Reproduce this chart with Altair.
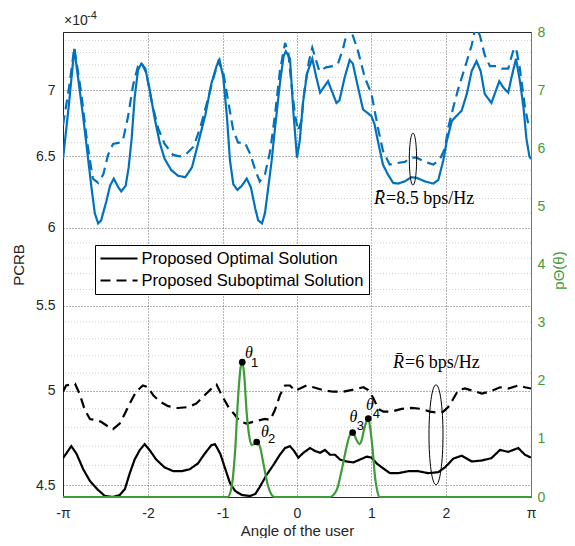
import altair as alt
import pandas as pd

PI = 3.141592653589793

# ---------------- data (PCRB in units of 1e-4) ----------------
opt85_x = [-PI, -3.06, -2.99, -2.94, -2.87, -2.76, -2.715, -2.67, -2.63, -2.56, -2.51, -2.46, -2.40, -2.36,
           -2.30, -2.26, -2.22, -2.18, -2.134, -2.09, -2.036, -1.977, -1.91, -1.843, -1.776, -1.687, -1.597,
           -1.50, -1.41, -1.33, -1.23, -1.15, -1.08, -1.04, -0.99, -0.94, -0.90, -0.855, -0.80, -0.74, -0.675,
           -0.62, -0.56, -0.52, -0.47, -0.43, -0.385, -0.34, -0.295, -0.23, -0.18, -0.15, -0.094, -0.05, 0.0,
           0.036, 0.08, 0.134, 0.205, 0.26, 0.31, 0.416, 0.483, 0.53, 0.57, 0.64, 0.707, 0.75, 0.82, 0.886,
           0.998, 1.04, 1.087, 1.154, 1.22, 1.29, 1.356, 1.446, 1.534, 1.607, 1.718, 1.83, 1.897, 1.964, 2.01,
           2.077, 2.14, 2.21, 2.28, 2.345, 2.41, 2.466, 2.52, 2.61, 2.716, 2.77, 2.836, 2.88, 2.94, 2.993,
           3.04, 3.08, 3.12, PI]
opt85_y = [6.48, 6.9, 7.33, 7.1, 6.79, 6.28, 6.1, 6.03, 6.05, 6.18, 6.29, 6.34, 6.28, 6.25,
           6.29, 6.42, 6.63, 6.94, 7.16, 7.21, 7.17, 7.0, 6.78, 6.6, 6.48, 6.4, 6.36,
           6.35, 6.42, 6.59, 6.81, 7.05, 7.19, 7.24, 7.1, 6.79, 6.47, 6.3, 6.26, 6.29, 6.34,
           6.28, 6.13, 6.05, 6.03, 6.1, 6.28, 6.47, 6.71, 7.05, 7.27, 7.31, 7.25, 6.84, 6.49,
           6.61, 6.9, 7.13, 7.25, 7.1, 6.98, 7.07, 6.97, 6.9, 6.92, 7.1, 7.24, 7.21, 7.02, 6.85,
           6.8, 6.74, 6.61, 6.44, 6.37, 6.31, 6.305, 6.32, 6.35, 6.345, 6.32, 6.305, 6.33, 6.47, 6.61,
           6.76, 6.8, 6.84, 6.97, 7.15, 7.23, 7.15, 6.97, 6.9, 7.07, 7.02, 6.98, 7.1, 7.25, 7.07,
           6.87, 6.63, 6.5, 6.48]

sub85_x = [-PI, -3.06, -2.99, -2.895, -2.83, -2.78, -2.74, -2.67, -2.60, -2.537, -2.47, -2.38, -2.336,
           -2.27, -2.20, -2.134, -2.09, -2.02, -1.955, -1.866, -1.776, -1.664, -1.575, -1.50, -1.39, -1.30,
           -1.21, -1.12, -1.056, -0.99, -0.92, -0.855, -0.79, -0.70, -0.63, -0.56, -0.50, -0.43, -0.36,
           -0.295, -0.23, -0.16, -0.117, -0.07, -0.027, 0.013, 0.058, 0.10, 0.16, 0.205, 0.26, 0.30, 0.39,
           0.48, 0.55, 0.617, 0.66, 0.707, 0.75, 0.82, 0.91, 1.0, 1.087, 1.154, 1.244, 1.333, 1.446, 1.534,
           1.607, 1.718, 1.83, 1.92, 1.987, 2.03, 2.1, 2.165, 2.255, 2.345, 2.40, 2.456, 2.52, 2.59, 2.68,
           2.75, 2.836, 2.9, 2.94, 2.99, 3.06, 3.105, PI]
sub85_y = [6.73, 7.02, 7.34, 6.97, 6.66, 6.47, 6.34, 6.31, 6.37, 6.51, 6.59, 6.6, 6.62,
           6.79, 7.04, 7.19, 7.22, 7.13, 6.92, 6.71, 6.59, 6.51, 6.5, 6.51, 6.57, 6.71,
           6.9, 7.1, 7.23, 7.14, 6.9, 6.69, 6.6, 6.6, 6.52, 6.4, 6.32, 6.37, 6.54,
           6.81, 7.15, 7.38, 7.3, 7.02, 6.81, 6.69, 6.76, 7.0, 7.23, 7.34, 7.23, 7.15, 7.18,
           7.19, 7.21, 7.33, 7.44, 7.52, 7.44, 7.31, 7.1, 6.97, 6.71, 6.54, 6.44, 6.45, 6.46, 6.49,
           6.49, 6.46, 6.44, 6.48, 6.56, 6.71, 6.87, 7.01, 7.18, 7.36, 7.52, 7.44, 7.28, 7.19, 7.19,
           7.17, 7.17, 7.31, 7.34, 7.18, 6.87, 6.74, 6.71]

opt6_x = [-PI, -3.03, -2.96, -2.87, -2.78, -2.67, -2.58, -2.47, -2.38, -2.31, -2.245, -2.18, -2.11, -2.045,
          -1.98, -1.89, -1.78, -1.66, -1.55, -1.44, -1.33, -1.24, -1.15, -1.10, -1.03, -0.97, -0.90, -0.83,
          -0.74, -0.63, -0.56, -0.50, -0.41, -0.32, -0.23, -0.16, -0.094, -0.04, 0.018, 0.085, 0.175, 0.24,
          0.31, 0.376, 0.443, 0.51, 0.577, 0.667, 0.756, 0.846, 0.936, 1.0, 1.07, 1.137, 1.248, 1.36, 1.494,
          1.628, 1.762, 1.897, 1.987, 2.1, 2.21, 2.345, 2.48, 2.61, 2.725, 2.836, 2.97, 3.06, PI]
opt6_y = [4.637, 4.70, 4.66, 4.58, 4.52, 4.475, 4.445, 4.44, 4.45, 4.48, 4.56, 4.63, 4.68, 4.71,
          4.68, 4.63, 4.59, 4.57, 4.57, 4.58, 4.61, 4.66, 4.705, 4.71, 4.66, 4.59, 4.51, 4.47,
          4.45, 4.445, 4.455, 4.49, 4.55, 4.6, 4.655, 4.69, 4.70, 4.675, 4.64, 4.665, 4.69, 4.675,
          4.665, 4.68, 4.655, 4.655, 4.63, 4.62, 4.615, 4.63, 4.645, 4.64, 4.61, 4.59, 4.56, 4.56, 4.57,
          4.57, 4.56, 4.565, 4.59, 4.635, 4.65, 4.62, 4.625, 4.637, 4.68, 4.67, 4.69, 4.655, 4.64]

sub6_x = [-PI, -3.1, -2.98, -2.92, -2.85, -2.78, -2.715, -2.63, -2.54, -2.47, -2.38, -2.31, -2.245, -2.16,
          -2.07, -2.0, -1.93, -1.84, -1.73, -1.6, -1.46, -1.35, -1.24, -1.13, -1.08, -1.01, -0.92, -0.83,
          -0.765, -0.675, -0.587, -0.43, -0.36, -0.295, -0.23, -0.16, -0.094, -0.027, 0.04, 0.13, 0.22,
          0.353, 0.487, 0.62, 0.756, 0.89, 0.957, 1.024, 1.09, 1.16, 1.27, 1.405, 1.54, 1.674, 1.785, 1.875,
          1.964, 2.03, 2.1, 2.165, 2.255, 2.366, 2.48, 2.59, 2.725, 2.836, 2.97, 3.06, PI]
sub6_y = [4.995, 5.03, 5.04, 4.985, 4.895, 4.845, 4.84, 4.83, 4.805, 4.79, 4.82, 4.875, 4.93, 4.995,
          5.03, 5.02, 4.975, 4.94, 4.915, 4.905, 4.91, 4.93, 4.975, 5.02, 5.035, 4.975, 4.91, 4.865,
          4.83, 4.82, 4.83, 4.845, 4.84, 4.895, 4.975, 5.03, 5.03, 5.0, 5.013, 5.03, 5.02,
          5.004, 4.995, 4.995, 5.007, 5.02, 5.004, 4.96, 4.9, 4.885, 4.885, 4.9, 4.905, 4.9, 4.885, 4.88,
          4.885, 4.91, 4.957, 5.004, 5.013, 5.0, 4.985, 4.995, 5.02, 5.013, 5.03, 5.02, 5.013]

pdf_x = [-PI, -0.93, -0.877, -0.83, -0.79, -0.756, -0.735, -0.711, -0.675, -0.64, -0.61, -0.577, -0.541,
         -0.497, -0.452, -0.407, -0.362, -0.30, 0.44, 0.533, 0.6, 0.667, 0.711, 0.747, 0.80, 0.837, 0.868,
         0.904, 0.944, 0.957, 0.975, 1.016, 1.047, 1.08, 1.11, PI]
pdf_y = [0, 0, 0.18, 0.81, 1.73, 2.24, 2.32, 2.13, 1.44, 1.04, 0.895, 0.91, 0.946,
         0.866, 0.58, 0.29, 0.09, 0, 0, 0.12, 0.46, 0.87, 1.07, 1.11, 0.98, 0.91, 0.98,
         1.18, 1.33, 1.35, 1.25, 0.81, 0.35, 0.09, 0, 0]

theta_names = ["1", "2", "3", "4"]
theta_x = [-0.735, -0.541, 0.747, 0.957]
theta_y = [2.32, 0.946, 1.11, 1.35]
theta_lbl_x = [-0.644, -0.43, 0.758, 0.98]
theta_lbl_y = [2.48, 1.12, 1.376, 1.58]
theta_sub_x = [-0.57, -0.342, 0.852, 1.067]
theta_sub_y = [2.305, 1.0, 1.22, 1.43]

rate_labels = ["=8.5 bps/Hz", "=6 bps/Hz"]
rate_lbl_x = [1.034, 1.289]
rate_lbl_y = [6.195, 5.16]

ell_x = [1.557, 1.866]
ell_y = [6.48, 4.76]
ell_size = [2704, 10000]

y_major = [4.5, 5, 5.5, 6, 6.5, 7]
y_minor = [4.6, 4.7, 4.8, 4.9, 5.1, 5.2, 5.3, 5.4, 5.6, 5.7, 5.8, 5.9, 6.1, 6.2, 6.3, 6.4,
           6.6, 6.7, 6.8, 6.9, 7.1, 7.2, 7.3, 7.4]
x_ticks = [-PI, -2, -1, 0, 1, 2, PI]
p_ticks = [0, 1, 2, 3, 4, 5, 6, 7, 8]

OPT = "Proposed Optimal Solution"
SUB = "Proposed Suboptimal Solution"
BLUE = "#0072BD"
GREEN = "#3f9a3a"
SANS = "Liberation Sans"
SERIF = "Liberation Serif"


def series(xs, ys, rate, sol):
    return pd.DataFrame({"x": xs, "y": ys, "rate": rate, "sol": sol})


lines_df = pd.concat([
    series(opt85_x, opt85_y, "8.5", OPT),
    series(sub85_x, sub85_y, "8.5", SUB),
    series(opt6_x, opt6_y, "6", OPT),
    series(sub6_x, sub6_y, "6", SUB),
], ignore_index=True)

X = alt.X("x:Q", scale=alt.Scale(domain=[-PI, PI], nice=False, zero=False),
          axis=alt.Axis(values=x_ticks, title="Angle of the user", grid=True, gridColor="#666",
                        gridDash=[1, 2], ticks=False, tickSize=0, labelPadding=9,
                        titleY=38, titleBaseline="alphabetic",
                        labelFlush=False, domainColor="#262626",
                        labelExpr="datum.value < -3 ? '-π' : (datum.value > 3 ? 'π' : (datum.value < 0 ? '-' + abs(datum.value) : '' + datum.value))"))

YL = alt.Y("y:Q", scale=alt.Scale(type="log", domain=[4.44, 7.47], nice=False, zero=False),
           axis=alt.Axis(values=y_major, format="~g", title="PCRB", grid=True, gridColor="#666",
                         gridDash=[1, 2], ticks=False, tickSize=0, labelPadding=8, titlePadding=9,
                         domainColor="#262626", labelOverlap=False))

YR = alt.Y("y:Q", scale=alt.Scale(domain=[0, 8], nice=False, zero=False),
           axis=alt.Axis(orient="right", values=p_ticks, title="pΘ(θ)", grid=False, ticks=False,
                         tickSize=0, labelPadding=6, domainColor=GREEN,
                         labelColor=GREEN, titleColor=GREEN, titleAngle=270, titleX=27, titleY=238,
                         titleAlign="center", titleBaseline="middle"))

minor_grid = alt.Chart(pd.DataFrame({"y": y_minor})).mark_rule(
    color="#cfcfcf", strokeDash=[1, 2], strokeWidth=1).encode(y=YL)

LEG_LINE = "M -1.07,0 L 3.87,0"
lines = alt.Chart(lines_df).mark_line(strokeWidth=2.2, clip=True, interpolate="linear").encode(
    x=X, y=YL,
    color=alt.Color("rate:N", scale=alt.Scale(domain=["8.5", "6"], range=[BLUE, "black"]), legend=None),
    strokeDash=alt.StrokeDash("sol:N", scale=alt.Scale(domain=[OPT, SUB], range=[[1, 0], [10, 6]]),
                              legend=alt.Legend(title=None, orient="none", legendX=32, legendY=213,
                                                strokeColor="black", fillColor="white", padding=5,
                                                labelFont=SANS, labelFontSize=16.5, symbolType=LEG_LINE,
                                                symbolSize=225, symbolStrokeWidth=2,
                                                symbolFillColor="transparent",
                                                symbolStrokeColor="black", rowPadding=5, labelOffset=24.5,
                                                cornerRadius=0, labelLimit=400)),
    detail="rate:N",
)

ELLIPSE = "M -0.14,0 A 0.14,1 0 1,1 0.14,0 A 0.14,1 0 1,1 -0.14,0 Z"
ellipses = alt.Chart(pd.DataFrame({"x": ell_x, "y": ell_y, "s": ell_size})).mark_point(
    shape=ELLIPSE, filled=False, color="black", strokeWidth=1, opacity=1).encode(
    x=X, y=YL, size=alt.Size("s:Q", scale=None))

rate_df = pd.DataFrame({"x": rate_lbl_x, "y": rate_lbl_y, "t": rate_labels})
rbar = alt.Chart(rate_df).mark_text(text="R\u0304", font=SERIF, fontStyle="italic", fontSize=18,
                                    align="left", baseline="middle", color="black").encode(x=X, y=YL)
rtxt = alt.Chart(rate_df).mark_text(font=SERIF, fontSize=18, align="left", baseline="middle",
                                    dx=12, color="black").encode(x=X, y=YL, text="t:N")

left = alt.layer(minor_grid, lines, ellipses, rbar, rtxt)

pdf = alt.Chart(pd.DataFrame({"x": pdf_x, "y": pdf_y})).mark_line(
    color=GREEN, strokeWidth=2.2, interpolate="monotone").encode(x=X, y=YR)

th_df = pd.DataFrame({"x": theta_x, "y": theta_y})
th_pts = alt.Chart(th_df).mark_circle(color="black", size=45, opacity=1).encode(x=X, y=YR)
th_lbl = alt.Chart(pd.DataFrame({"x": theta_lbl_x, "y": theta_lbl_y})).mark_text(
    text="θ", font=SERIF, fontStyle="italic", fontSize=16, baseline="middle", color="black").encode(x=X, y=YR)
th_sub = alt.Chart(pd.DataFrame({"x": theta_sub_x, "y": theta_sub_y, "t": theta_names})).mark_text(
    font=SANS, fontSize=13, baseline="middle", color="black").encode(x=X, y=YR, text="t:N")

right = alt.layer(pdf, th_pts, th_lbl, th_sub)

exp1 = alt.Chart(pd.DataFrame({"t": ["×10"]})).mark_text(
    font=SANS, fontSize=14, align="left", baseline="middle", color="#262626").encode(
    x=alt.value(1), y=alt.value(-11), text="t:N")
exp2 = alt.Chart(pd.DataFrame({"t": ["-4"]})).mark_text(
    font=SANS, fontSize=11, align="left", baseline="middle", color="#262626").encode(
    x=alt.value(24), y=alt.value(-16), text="t:N")

chart = alt.layer(left, right, exp1, exp2).resolve_scale(y="independent").properties(
    width=468, height=465,
    autosize=alt.AutoSizeParams(type="none"),
    padding={"left": 55, "top": 24, "right": 36, "bottom": 41},
).configure_view(stroke="#262626", strokeWidth=1).configure_axis(
    labelFont=SANS, titleFont=SANS, labelFontSize=14, titleFontSize=15, titleFontWeight="normal",
    labelColor="#262626", titleColor="#262626",
)

chart.save("out.html", embed_options={"renderer": "svg", "actions": False})
